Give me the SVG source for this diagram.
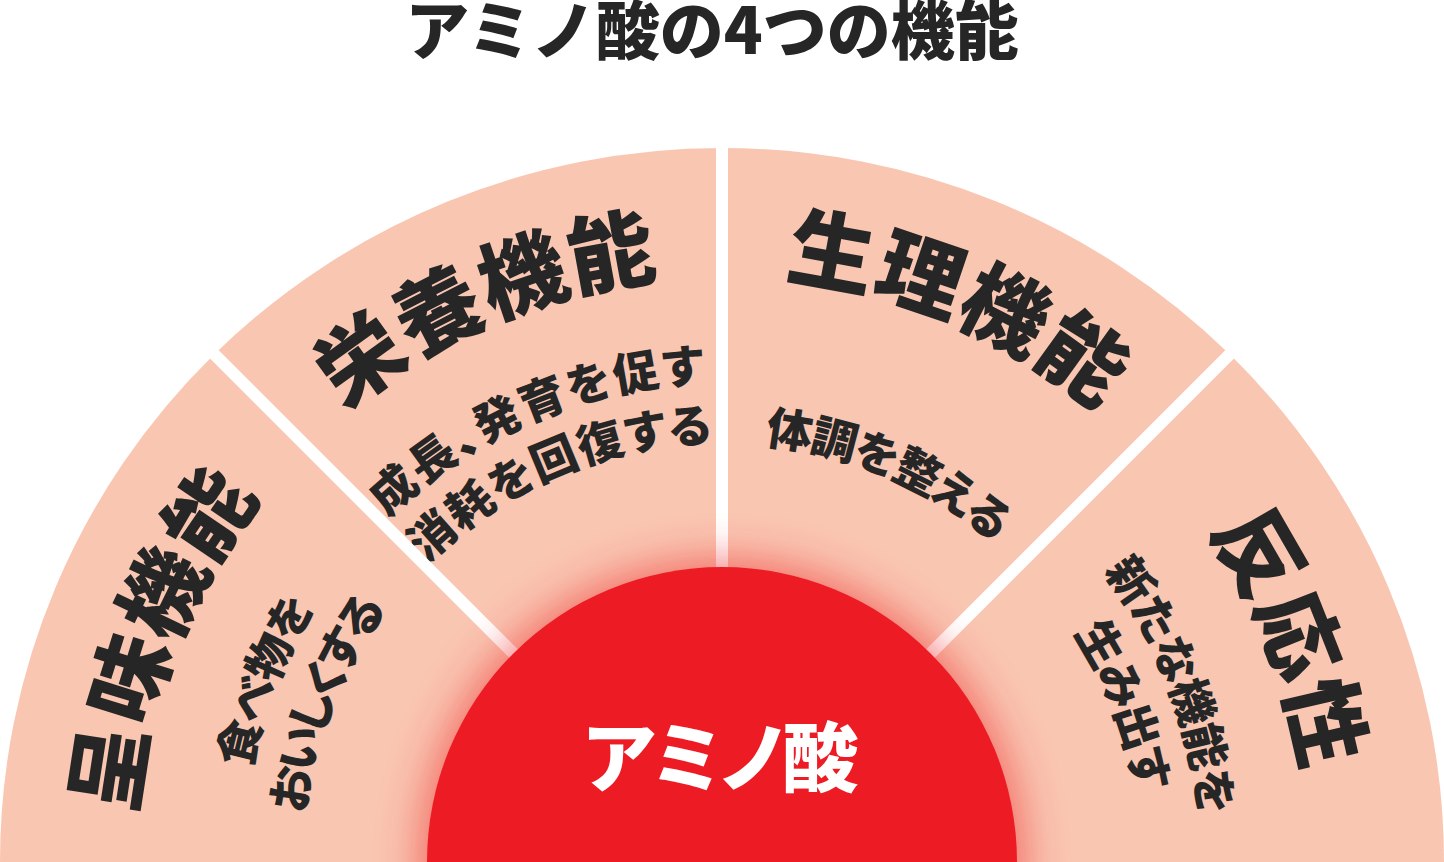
<svg xmlns="http://www.w3.org/2000/svg" width="1444" height="862" viewBox="0 0 1444 862">
<style>
.wedge{fill:#F9C6B2}
.sep{stroke:#FFFFFF;stroke-width:12;fill:none}
.jp{font-family:"Noto Sans CJK JP","Noto Sans CJK SC",sans-serif;font-weight:900;fill:#262626}
.h{font-size:86px;letter-spacing:1px}
.s{font-size:46px;font-feature-settings:"palt" 1}
.title{font-size:64px}
.core{font-size:76px;fill:#FFFFFF;font-feature-settings:"palt" 1}
</style>
<defs>
<filter id="glowBlur" x="-40%" y="-40%" width="180%" height="180%">
<feGaussianBlur stdDeviation="22"/>
</filter>
<path id="h1" d="M205.25,1142.57 A588,588 0 0 1 535.43,304.39"/>
<path id="h2" d="M159.70,690.09 A588,588 0 0 1 988.95,338.09"/>
<path id="h3" d="M455.05,338.09 A588,588 0 0 1 1284.30,690.09"/>
<path id="h4" d="M908.57,304.39 A588,588 0 0 1 1238.75,1142.57"/>
<path id="s1a" d="M300.17,1091.04 A480,480 0 0 1 569.70,406.81"/>
<path id="s1b" d="M352.90,1062.41 A420,420 0 0 1 588.73,463.71"/>
<path id="s2a" d="M262.98,721.66 A480,480 0 0 1 939.92,434.32"/>
<path id="s2b" d="M320.35,739.20 A420,420 0 0 1 912.68,487.78"/>
<path id="s3" d="M531.32,487.78 A420,420 0 0 1 1123.65,739.20"/>
<path id="s4a" d="M874.30,406.81 A480,480 0 0 1 1143.83,1091.04"/>
<path id="s4b" d="M855.27,463.71 A420,420 0 0 1 1091.10,1062.41"/>
</defs>
<rect width="1444" height="862" fill="#FFFFFF"/>
<text id="title" class="jp title" x="712" y="54" text-anchor="middle">アミノ酸の4つの機能</text>

<g id="sector-taste">
<path class="wedge" d="M722,862 L0,862 A722,714 0 0 1 214.3,354.3 Z"/>
<text class="jp h" text-anchor="middle"><textPath href="#h1" startOffset="50%">呈味機能</textPath></text>
<text class="jp s" text-anchor="middle" letter-spacing="-2"><textPath href="#s1a" startOffset="50%">食べ物を</textPath></text>
<text class="jp s" text-anchor="middle" letter-spacing="-5"><textPath href="#s1b" startOffset="50%">おいしくする</textPath></text>
</g>

<g id="sector-nutrition">
<path class="wedge" d="M722,862 L214.3,354.3 A722,714 0 0 1 722,148 Z"/>
<text class="jp h" text-anchor="middle"><textPath href="#h2" startOffset="50%">栄養機能</textPath></text>
<text class="jp s" text-anchor="middle" letter-spacing="2"><textPath href="#s2a" startOffset="50%">成長、発育を促す</textPath></text>
<text class="jp s" text-anchor="middle" letter-spacing="1"><textPath href="#s2b" startOffset="50%">消耗を回復する</textPath></text>
</g>

<g id="sector-physiology">
<path class="wedge" d="M722,862 L722,148 A722,714 0 0 1 1229.7,354.3 Z"/>
<text class="jp h" text-anchor="middle"><textPath href="#h3" startOffset="50%">生理機能</textPath></text>
<text class="jp s" text-anchor="middle" letter-spacing="-2"><textPath href="#s3" startOffset="50%">体調を整える</textPath></text>
</g>

<g id="sector-reactivity">
<path class="wedge" d="M722,862 L1229.7,354.3 A722,714 0 0 1 1444,862 Z"/>
<text class="jp h" text-anchor="middle"><textPath href="#h4" startOffset="50%">反応性</textPath></text>
<text class="jp s" text-anchor="middle" letter-spacing="-1"><textPath href="#s4a" startOffset="50%">新たな機能を</textPath></text>
<text class="jp s" text-anchor="middle" letter-spacing="-2"><textPath href="#s4b" startOffset="50%">生み出す</textPath></text>
</g>

<g id="connectors">
<line class="sep" x1="722" y1="862" x2="722" y2="140"/>
<line class="sep" x1="722" y1="862" x2="204" y2="344"/>
<line class="sep" x1="722" y1="862" x2="1240" y2="344"/>
</g>

<g id="amino-acid">
<circle cx="722" cy="862" r="302" fill="#EE2E2E" opacity="0.6" filter="url(#glowBlur)"/>
<circle cx="722" cy="862" r="295" fill="#ED1C24"/>
<text class="jp core" x="721" y="786" text-anchor="middle">アミノ酸</text>
</g>
</svg>
